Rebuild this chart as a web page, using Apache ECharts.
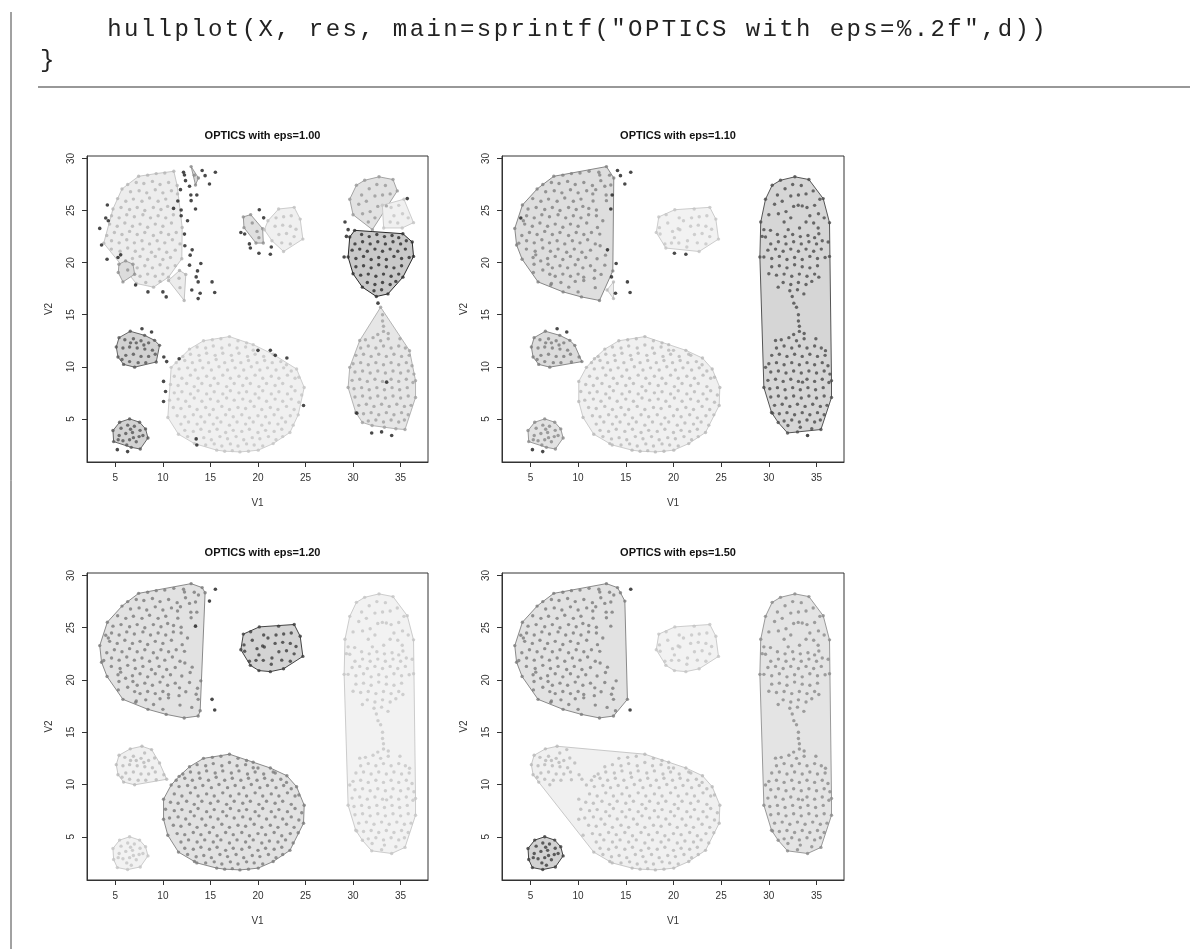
<!DOCTYPE html>
<html><head><meta charset="utf-8">
<script src="https://cdn.jsdelivr.net/npm/echarts@6/dist/echarts.min.js"></script>
<style>
html,body{margin:0;padding:0;background:#fff;}
#chart{position:absolute;left:0;top:0;width:1200px;height:949px;}
#code{position:absolute;left:40px;top:14px;margin:0;font-family:'Liberation Mono',monospace;font-size:24px;line-height:31px;letter-spacing:2.4px;color:#222;white-space:pre;}
</style></head>
<body>
<div id="chart"></div>
<pre id="code"></pre>
<script>
// ---------------- data ----------------
const codeLines = ['    hullplot(X, res, main=sprintf("OPTICS with eps=%.2f",d))', '}'];
const epsValues = ['1.00', '1.10', '1.20', '1.50'];
const xTicks = [5, 10, 15, 20, 25, 30, 35];
const yTicks = [5, 10, 15, 20, 25, 30];
const xRange = [2.02, 37.88];
const yRange = [0.862, 30.238];

// top-left blob
const TL = [[7.45,28.29],[8.4,28.4],[9.3,28.55],[10.2,28.6],[11.15,28.77],
[6.3,27.5],[7.2,27.7],[8.0,27.6],[8.9,27.8],[9.7,27.5],[10.6,27.7],[11.5,27.4],
[5.7,27.07],[6.6,26.8],[7.5,26.9],[8.3,26.7],[9.2,27.0],[10.0,26.7],[10.9,26.9],[11.54,26.6],
[5.24,26.15],[6.1,25.9],[6.9,26.1],[7.8,25.9],[8.6,26.2],[9.5,25.9],[10.3,26.1],
[4.75,25.15],[5.6,25.3],[6.5,25.1],[7.3,25.3],[8.1,25.0],[9.0,25.3],[9.8,25.1],[10.5,25.4],
[4.6,24.5],[5.4,24.3],[6.2,24.6],[7.0,24.4],[7.9,24.6],[8.7,24.3],[9.5,24.5],[10.3,24.3],[11.1,24.6],
[4.4,23.7],[5.2,23.5],[6.0,23.8],[6.8,23.5],[7.6,23.7],[8.4,23.4],[9.2,23.7],[10.0,23.5],[10.9,23.8],[12.03,23.38],
[4.1,22.6],[4.9,22.9],[5.7,22.7],[6.5,23.0],[7.3,22.7],[8.1,22.9],[9.0,22.6],[9.8,22.9],[10.6,22.7],[11.4,22.9],
[3.78,21.87],[4.6,22.1],[5.4,21.9],[6.2,22.2],[7.0,21.9],[7.8,22.1],[8.6,21.8],[9.4,22.1],[10.2,21.9],[11.0,22.2],[11.8,21.8],
[4.58,21.3],[5.5,21.1],[6.3,21.4],[7.1,21.1],[7.9,21.3],[8.8,21.0],[9.6,21.3],[10.4,21.0],[11.3,21.2],
[6.8,20.4],[7.6,20.6],[8.4,20.3],[9.2,20.6],[10.0,20.3],[10.8,20.5],[11.99,20.38],
[7.3,19.5],[8.1,19.7],[8.9,19.5],[9.7,19.8],[10.5,19.5],[11.3,19.7],
[7.6,18.7],[8.4,18.9],[9.2,18.7],[10.0,18.9],[10.59,18.61],
[7.2,18.0],[8.2,18.1],[9.02,17.65],[9.7,18.2]];
const TLb = [[6.08,20.17],[6.85,19.85],[7.03,18.89],[5.8,18.15],[5.31,19.05],[5.38,19.85],[6.3,19.3]];
const TLc = [[10.59,18.29],[11.75,19.25],[12.41,18.87],[12.24,16.37],[11.8,17.6],[11.7,18.5]];
const TLd = [[12.97,29.22],[13.74,28.13],[13.43,27.46],[13.3,28.4]];
const TLn1 = [[4.16,25.53],[4.26,24.02],[3.36,23.29],[3.55,21.7],[4.13,20.33],[5.56,20.75],[5.28,20.5],[7.13,17.86],[8.43,17.19],[10.0,17.19],[10.35,16.71],[12.17,28.68],[12.27,28.42],[12.38,27.87],[12.8,27.33],[11.85,27.01],[12.94,26.49],[12.97,25.95],[11.57,25.92],[11.12,25.21],[11.92,25.05],[12.59,24.02],[11.92,24.5],[12.27,22.74],[12.31,21.62],[12.87,20.72],[12.8,19.76],[13.64,19.21]];
const TLs = [[13.04,17.38],[13.71,18.15],[13.71,16.55]];
const TLn2 = [[3.99,24.28],[13.57,26.49],[13.08,21.23],[13.99,19.92],[13.5,18.63],[13.92,17.06],[14.13,28.84],[14.44,28.35]];
const TLn3 = [[14.9,27.55],[15.17,18.15],[13.43,25.15]];
const TLx = [[15.52,28.68],[15.45,17.13]];

// small blobs on the left
const SE = [[5.39,12.8],[6.57,13.41],[8.08,13.02],[9.13,12.54],[9.65,12.06],[9.3,10.46],[7.03,9.97],[5.87,10.23],[5.28,10.94],[5.1,11.9],[6.0,12.6],[6.9,12.7],[7.7,12.5],[8.5,12.3],[5.8,11.8],[6.5,11.9],[7.3,11.8],[8.1,11.7],[8.9,11.6],[6.1,11.1],[6.9,11.2],[7.7,11.0],[8.5,11.0],[9.2,11.2],[6.5,10.5],[7.4,10.4],[8.2,10.4],[6.6,12.3],[7.2,12.3],[8.0,12.1],[5.7,10.7]];
const SEn1 = [[10.1,10.94],[10.4,10.5]];
const SEn = [[7.8,13.66],[8.81,13.34]];
const SF = [[5.45,4.68],[6.5,5.0],[7.55,4.68],[8.18,4.04],[8.43,3.17],[7.62,2.11],[6.68,2.27],[4.82,2.82],[4.75,3.88],[5.6,4.1],[6.3,4.4],[7.0,4.3],[7.6,3.9],[5.4,3.4],[6.1,3.6],[6.8,3.7],[7.5,3.3],[5.8,2.9],[6.5,3.0],[7.2,2.8],[6.2,2.5],[6.9,3.2],[5.3,3.0],[7.9,3.4],[6.6,4.0]];
const SFn = [[5.21,2.05],[6.29,1.86]];

// big lower blob
const EL = [[14.27,12.5],[15.2,12.6],[16.1,12.7],[17.0,12.9],[17.9,12.5],[18.8,12.3],[19.5,12.13],
[12.8,11.7],[13.6,11.9],[14.5,11.8],[15.3,12.0],[16.2,11.8],[17.0,12.1],[17.8,11.8],[18.7,11.9],[19.5,11.6],
[12.1,11.0],[12.9,11.2],[13.8,11.1],[14.6,11.3],[15.5,11.1],[16.3,11.3],[17.2,11.1],[18.0,11.3],[18.9,11.0],[19.7,11.2],[20.6,11.0],[21.6,11.2],
[11.4,10.4],[12.3,10.6],[13.1,10.4],[13.9,10.6],[14.8,10.4],[15.6,10.7],[16.5,10.4],[17.3,10.6],[18.2,10.4],[19.0,10.6],[19.9,10.4],[20.7,10.6],[21.5,10.4],[22.4,10.5],[23.0,10.2],
[10.87,9.95],[11.7,9.8],[12.6,9.9],[13.4,9.7],[14.2,9.9],[15.1,9.7],[15.9,10.0],[16.8,9.7],[17.6,9.9],[18.5,9.7],[19.3,10.0],[20.2,9.7],[21.0,9.9],[21.9,9.7],[22.7,9.9],[23.5,9.6],[24.06,9.79],
[11.2,9.1],[12.0,8.9],[12.9,9.2],[13.7,8.9],[14.6,9.1],[15.4,8.9],[16.3,9.2],[17.1,8.9],[18.0,9.1],[18.8,8.9],[19.7,9.2],[20.5,8.9],[21.4,9.1],[22.2,8.9],[23.1,9.2],[23.9,8.9],[24.3,9.0],
[10.8,8.3],[11.6,8.2],[12.5,8.4],[13.3,8.1],[14.1,8.4],[15.0,8.2],[15.8,8.4],[16.7,8.1],[17.5,8.4],[18.4,8.2],[19.2,8.4],[20.1,8.1],[20.9,8.4],[21.8,8.2],[22.6,8.4],[23.5,8.1],[24.86,8.02],
[11.2,7.5],[12.0,7.6],[12.9,7.4],[13.7,7.7],[14.6,7.4],[15.4,7.6],[16.3,7.4],[17.1,7.7],[18.0,7.5],[18.8,7.6],[19.7,7.4],[20.5,7.7],[21.4,7.4],[22.2,7.6],[23.1,7.4],[23.9,7.7],[24.6,7.3],
[10.7,6.8],[11.6,6.9],[12.4,6.7],[13.3,7.0],[14.1,6.7],[15.0,6.9],[15.8,6.7],[16.7,7.0],[17.5,6.8],[18.4,6.9],[19.2,6.7],[20.1,7.0],[20.9,6.7],[21.8,6.9],[22.6,6.7],[23.5,6.9],[24.3,6.6],
[11.1,6.1],[11.9,6.0],[12.8,6.2],[13.6,5.9],[14.5,6.1],[15.3,5.9],[16.2,6.2],[17.0,5.9],[17.9,6.1],[18.7,6.0],[19.6,6.2],[20.4,5.9],[21.3,6.1],[22.1,5.9],[23.0,6.2],[23.8,5.9],
[10.52,5.14],[11.5,5.3],[12.3,5.2],[13.2,5.4],[14.0,5.2],[14.9,5.4],[15.7,5.1],[16.6,5.4],[17.4,5.2],[18.3,5.4],[19.1,5.1],[20.0,5.3],[20.8,5.2],[21.7,5.4],[22.5,5.1],[23.4,5.3],[24.23,5.39],
[11.9,4.5],[12.7,4.7],[13.6,4.5],[14.4,4.7],[15.3,4.5],[16.1,4.7],[17.0,4.4],[17.8,4.7],[18.7,4.5],[19.5,4.7],[20.4,4.4],[21.2,4.6],[22.1,4.5],[22.9,4.7],[23.7,4.4],
[12.3,3.9],[13.2,3.8],[14.0,4.0],[14.9,3.8],[15.7,4.0],[16.6,3.7],[17.4,3.9],[18.3,3.8],[19.1,4.0],[20.0,3.7],[20.8,3.9],[21.7,3.8],[22.5,4.0],[23.36,3.7],
[11.64,3.53],[12.6,3.3],[14.3,3.2],[15.1,3.0],[16.0,3.3],[16.8,3.1],[17.7,3.3],[18.5,3.0],[19.4,3.2],[20.2,3.1],[21.1,3.3],[21.9,3.0],[22.6,3.3],
[13.32,2.63],[14.5,2.5],[15.4,2.6],[16.2,2.4],[17.1,2.6],[17.9,2.4],[18.8,2.6],[19.6,2.5],[20.5,2.4],[21.6,2.63],
[15.66,2.0],[16.5,1.9],[17.3,1.95],[18.1,1.83],[19.0,1.9],[20.03,2.0]];
const ELn = [[11.71,10.78],[10.07,8.6],[10.28,7.63],[10.07,6.67],[13.5,3.08],[13.57,2.5],[20.0,11.58],[21.3,11.58],[21.82,11.1],[23.04,10.84],[24.79,6.29]];

// upper middle blob
const HH = [[18.46,24.39],[19.23,24.61],[20.49,23.26],[20.56,21.88],[19.79,21.88],[18.53,23.36],[19.4,23.8],[19.9,23.0],[20.1,22.4]];
const HI = [[22.17,25.15],[23.81,25.31],[24.44,24.18],[24.72,22.26],[22.69,21.07],[21.47,22.1],[20.67,23.16],[21.05,24.02],[21.9,24.3],[22.7,24.4],[23.5,24.5],[21.8,23.5],[22.6,23.6],[23.4,23.5],[24.0,23.2],[22.2,22.7],[23.0,22.8],[23.8,22.5],[22.5,21.9],[23.4,21.8]];
const Hn1 = [[20.14,25.08],[20.6,24.3],[18.2,22.9],[18.6,22.75],[19.1,21.8],[19.2,21.4],[21.4,21.5]];
const Hn2 = [[20.1,20.9],[21.3,20.8]];

// right column
const RJ = [[29.65,26.09],[30.35,27.43],[31.22,27.91],[32.73,28.24],[34.2,27.98],[34.65,26.89],[33.5,25.45],[32.03,23.17],[30.0,24.6],[30.9,26.5],[31.7,27.1],[32.5,27.5],[33.4,27.4],[33.9,26.6],[30.6,25.6],[31.4,25.9],[32.3,26.4],[33.1,26.5],[31.0,24.7],[31.8,24.9],[32.6,25.4],[31.6,23.9],[32.3,24.3]];
const RK = [[33.08,25.51],[35.35,26.09],[36.36,23.84],[35.17,23.33],[33.22,23.33],[34.0,25.3],[34.8,25.5],[34.3,24.5],[35.2,24.7],[35.8,24.3],[33.9,23.9],[34.7,23.8]];
const RL = [[30.17,23.1],[35.24,22.78],[36.22,21.98],[36.36,20.6],[35.24,18.61],[33.67,17.0],[32.45,16.75],[30.98,17.65],[30.0,18.93],[29.48,20.54],[29.65,22.46],
[30.9,22.7],[31.7,22.5],[32.5,22.7],[33.3,22.5],[34.1,22.6],[34.8,22.4],
[30.2,21.8],[31.0,22.0],[31.8,21.8],[32.6,22.0],[33.4,21.8],[34.2,22.0],[35.0,21.8],[35.6,22.1],
[29.9,21.2],[30.7,21.3],[31.5,21.1],[32.3,21.3],[33.1,21.1],[33.9,21.3],[34.7,21.1],[35.5,21.3],
[30.3,20.4],[31.1,20.6],[31.9,20.3],[32.7,20.5],[33.5,20.3],[34.3,20.6],[35.1,20.4],[35.9,20.5],
[30.3,19.6],[31.1,19.7],[31.9,19.5],[32.7,19.8],[33.5,19.6],[34.3,19.5],[35.1,19.7],
[30.8,18.8],[31.6,18.9],[32.4,18.7],[33.2,18.9],[34.0,18.7],[34.8,18.9],
[31.5,18.1],[32.3,17.9],[33.1,18.1],[33.9,17.9],[34.5,18.2],[32.2,17.3],[33.0,17.4]];
const RM = [[32.9,15.72],[33.1,15.0],[33.1,14.4],[33.2,13.9],[33.2,13.4],[32.6,13.1],[33.7,13.2],
[35.94,11.55],[36.57,8.67],[36.57,7.06],[35.46,3.98],[34.5,4.05],[33.3,4.2],[32.0,4.36],[30.98,4.66],[30.28,5.62],[29.48,8.02],[29.65,9.95],[30.7,12.52],[34.93,12.7],
[31.3,12.6],[32.1,12.8],[32.9,12.5],[33.7,12.7],
[30.8,11.8],[31.6,12.0],[32.4,11.8],[33.2,12.0],[34.0,11.8],[34.8,12.0],[35.5,11.8],
[30.3,11.1],[31.1,11.2],[31.9,11.0],[32.7,11.2],[33.5,11.0],[34.3,11.2],[35.1,11.0],[35.9,11.1],
[30.0,10.3],[30.8,10.4],[31.6,10.2],[32.4,10.4],[33.2,10.2],[34.0,10.4],[34.8,10.2],[35.6,10.4],[36.2,10.1],
[30.2,9.5],[31.0,9.6],[31.8,9.4],[32.6,9.6],[33.4,9.4],[34.2,9.6],[35.0,9.4],[35.8,9.6],[36.4,9.3],
[29.9,8.7],[30.7,8.8],[31.5,8.6],[32.3,8.8],[33.1,8.6],[34.0,8.8],[34.8,8.6],[35.6,8.8],[36.3,8.5],
[30.1,7.9],[30.9,8.0],[31.7,7.8],[32.5,8.0],[33.3,7.8],[34.1,8.0],[34.9,7.8],[35.7,8.0],
[30.2,7.1],[31.0,7.2],[31.8,7.0],[32.6,7.2],[33.4,7.0],[34.2,7.2],[35.0,7.0],[35.8,7.2],
[30.6,6.3],[31.4,6.4],[32.2,6.2],[33.0,6.4],[33.8,6.2],[34.6,6.4],[35.4,6.2],[36.1,6.3],
[31.1,5.5],[31.9,5.6],[32.7,5.4],[33.5,5.6],[34.3,5.4],[35.1,5.6],[35.8,5.4],
[31.6,4.8],[32.4,4.9],[33.2,4.7],[34.0,4.9],[34.8,4.7],[35.4,4.9]];
const Rn1 = [[29.48,23.17],[29.3,22.52],[29.06,20.54],[29.15,23.9],[35.7,26.15],[32.62,16.11],[31.96,3.65],[33.0,3.75],[30.39,5.55],[33.53,8.53]];
const Rn2 = [[34.06,3.4]];

const groupNames = ['TL','TLb','TLc','TLd','TLn1','TLs','TLn2','TLn3','TLx','SE','SEn1','SEn','SF','SFn','EL','ELn','HH','HI','Hn1','Hn2','RJ','RK','RL','RM','Rn1','Rn2'];
const groupPoints = {TL,TLb,TLc,TLd,TLn1,TLs,TLn2,TLn3,TLx,SE,SEn1,SEn,SF,SFn,EL,ELn,HH,HI,Hn1,Hn2,RJ,RK,RL,RM,Rn1,Rn2};

// cluster labels of each group per eps (0 = noise)
const labels100 = {TL:'a',TLb:'b',TLc:'c',TLd:'d',TLn1:0,TLs:0,TLn2:0,TLn3:0,TLx:0,SE:'e',SEn1:0,SEn:0,SF:'f',SFn:0,EL:'g',ELn:0,HH:'h',HI:'i',Hn1:0,Hn2:0,RJ:'j',RK:'k',RL:'l',RM:'m',Rn1:0,Rn2:0};
const labels110 = {TL:'a',TLb:'a',TLc:'a',TLd:'a',TLn1:'a',TLs:'s',TLn2:0,TLn3:0,TLx:0,SE:'e',SEn1:'e',SEn:0,SF:'f',SFn:0,EL:'g',ELn:'g',HH:'h',HI:'h',Hn1:'h',Hn2:0,RJ:'r',RK:'r',RL:'r',RM:'r',Rn1:'r',Rn2:0};
const labels120 = {TL:'a',TLb:'a',TLc:'a',TLd:'a',TLn1:'a',TLs:'a',TLn2:'a',TLn3:0,TLx:0,SE:'e',SEn1:'e',SEn:'e',SF:'f',SFn:'f',EL:'g',ELn:'g',HH:'h',HI:'h',Hn1:'h',Hn2:'h',RJ:'r',RK:'r',RL:'r',RM:'r',Rn1:'r',Rn2:'r'};
const labels150 = {TL:'a',TLb:'a',TLc:'a',TLd:'a',TLn1:'a',TLs:'a',TLn2:'a',TLn3:'a',TLx:0,SE:'g',SEn1:'g',SEn:'g',SF:'f',SFn:'f',EL:'g',ELn:'g',HH:'h',HI:'h',Hn1:'h',Hn2:'h',RJ:'r',RK:'r',RL:'r',RM:'r',Rn1:'r',Rn2:'r'};
const panelLabels = [labels100, labels110, labels120, labels150];

// ---------------- styles ----------------
// [point colour, hull fill, hull border]
const panelStyles = [
 {a:['#b4b4b4','#ededed','#c8c8c8'], b:['#909090','#dcdcdc','#a0a0a0'], c:['#b0b0b0','#ececec','#c4c4c4'], d:['#888888','#d8d8d8','#999999'],
  e:['#555555','#d2d2d2','#666666'], f:['#555555','#d2d2d2','#666666'], g:['#c4c4c4','#f0f0f0','#cfcfcf'], h:['#909090','#e0e0e0','#9a9a9a'],
  i:['#c0c0c0','#f0f0f0','#cccccc'], j:['#989898','#e2e2e2','#a4a4a4'], k:['#c4c4c4','#f0f0f0','#cccccc'], l:['#2a2a2a','#c9c9c9','#2a2a2a'], m:['#a0a0a0','#e6e6e6','#b4b4b4']},
 {a:['#808080','#dedede','#888888'], s:['#b8b8b8','#eeeeee','#c8c8c8'], e:['#7a7a7a','#dcdcdc','#8a8a8a'], f:['#8a8a8a','#e2e2e2','#9a9a9a'],
  g:['#b8b8b8','#f0f0f0','#cccccc'], h:['#c4c4c4','#f2f2f2','#cccccc'], r:['#4a4a4a','#d6d6d6','#555555']},
 {a:['#7a7a7a','#e2e2e2','#8a8a8a'], e:['#b8b8b8','#f0f0f0','#c8c8c8'], f:['#c4c4c4','#f2f2f2','#cccccc'], g:['#7a7a7a','#e2e2e2','#8a8a8a'],
  h:['#3c3c3c','#d4d4d4','#444444'], r:['#c4c4c4','#f2f2f2','#cccccc']},
 {a:['#7a7a7a','#e2e2e2','#8a8a8a'], f:['#3c3c3c','#d2d2d2','#444444'], g:['#b8b8b8','#f0f0f0','#c8c8c8'], h:['#c4c4c4','#f2f2f2','#cccccc'],
  r:['#8a8a8a','#e4e4e4','#9a9a9a']}
];
const gridBoxes = [[87,156,341,306],[502,156,342,306],[87,573,341,307],[502,573,342,307]];
const FONT = "'Liberation Sans', Arial, sans-serif";
const AXC = '#333';

document.getElementById('code').textContent = codeLines.join('\n');

function convexHull(pts){
  const p = pts.slice().sort((a,b)=>a[0]-b[0]||a[1]-b[1]);
  if (p.length < 3) return p;
  const cross=(o,a,b)=>(a[0]-o[0])*(b[1]-o[1])-(a[1]-o[1])*(b[0]-o[0]);
  const lower=[]; for(const q of p){while(lower.length>=2&&cross(lower[lower.length-2],lower[lower.length-1],q)<=0)lower.pop();lower.push(q);}
  const upper=[]; for(let i=p.length-1;i>=0;i--){const q=p[i];while(upper.length>=2&&cross(upper[upper.length-2],upper[upper.length-1],q)<=0)upper.pop();upper.push(q);}
  upper.pop(); lower.pop(); return lower.concat(upper);
}

const grids=[], xAxes=[], yAxes=[], series=[], titles=[];
panelLabels.forEach((lab, pi) => {
  const [gl, gt, gw, gh] = gridBoxes[pi];
  grids.push({left:gl, top:gt, width:gw, height:gh, show:true, borderColor:AXC, borderWidth:1, backgroundColor:'transparent'});
  xAxes.push({gridIndex:pi, type:'value', min:xRange[0], max:xRange[1], name:'V1', nameLocation:'middle', nameGap:36,
    nameTextStyle:{fontFamily:FONT, fontSize:10, color:AXC},
    axisLine:{show:true, lineStyle:{color:AXC, width:1}}, splitLine:{show:false},
    axisTick:{show:true, length:5, customValues:xTicks, lineStyle:{color:AXC}},
    axisLabel:{customValues:xTicks, margin:11, fontSize:10, color:AXC, fontFamily:FONT}});
  yAxes.push({gridIndex:pi, type:'value', min:yRange[0], max:yRange[1], name:'V2', nameLocation:'middle', nameGap:33, nameRotate:90,
    nameTextStyle:{fontFamily:FONT, fontSize:10, color:AXC},
    axisLine:{show:true, lineStyle:{color:AXC, width:1}}, splitLine:{show:false},
    axisTick:{show:true, length:5, customValues:yTicks, lineStyle:{color:AXC}},
    axisLabel:{customValues:yTicks, rotate:90, margin:11, fontSize:10, color:AXC, fontFamily:FONT}});
  titles.push({text:'OPTICS with eps=' + epsValues[pi], left:gl + gw/2, top:gt - 31, textAlign:'center',
    textStyle:{fontFamily:FONT, fontWeight:'bold', fontSize:11, color:'#111'}});

  const clusters = {}; const order = []; const noise = [];
  groupNames.forEach(g => {
    const k = lab[g];
    if (k === 0) { noise.push(...groupPoints[g]); return; }
    if (!clusters[k]) { clusters[k] = []; order.push(k); }
    clusters[k].push(...groupPoints[g]);
  });
  const st = panelStyles[pi];
  const cl = order.map(k => ({key:k, pts:clusters[k], hull:convexHull(clusters[k]), style:st[k]}));
  series.push({
    type:'custom', xAxisIndex:pi, yAxisIndex:pi, silent:true, z:1, animation:false,
    data: cl.map((c,i) => [c.hull[0][0], c.hull[0][1], i]),
    encode:{x:0, y:1},
    renderItem: (params, api) => {
      const c = cl[params.dataIndex];
      const pts = c.hull.map(p => api.coord(p));
      return {type:'polygon', shape:{points:pts}, style:{fill:c.style[1], stroke:c.style[2], lineWidth:1}};
    }
  });
  cl.forEach(c => {
    series.push({type:'scatter', xAxisIndex:pi, yAxisIndex:pi, silent:true, z:2, animation:false,
      symbol:'circle', symbolSize:3.4, itemStyle:{color:c.style[0]}, data:c.pts});
  });
  series.push({type:'scatter', xAxisIndex:pi, yAxisIndex:pi, silent:true, z:3, animation:false,
    symbol:'circle', symbolSize:3.6, itemStyle:{color:'#1c1c1c'}, data:noise});
});

const chart = echarts.init(document.getElementById('chart'), null, {renderer:'canvas'});
chart.setOption({
  animation:false,
  backgroundColor:'#ffffff',
  title:titles, grid:grids, xAxis:xAxes, yAxis:yAxes, series:series,
  graphic:[
    {type:'line', shape:{x1:38, y1:87, x2:1190, y2:87}, style:{stroke:'#333', lineWidth:1.2}, silent:true},
    {type:'line', shape:{x1:11, y1:12, x2:11, y2:949}, style:{stroke:'#444', lineWidth:1}, silent:true}
  ]
});
</script>
</body></html>
